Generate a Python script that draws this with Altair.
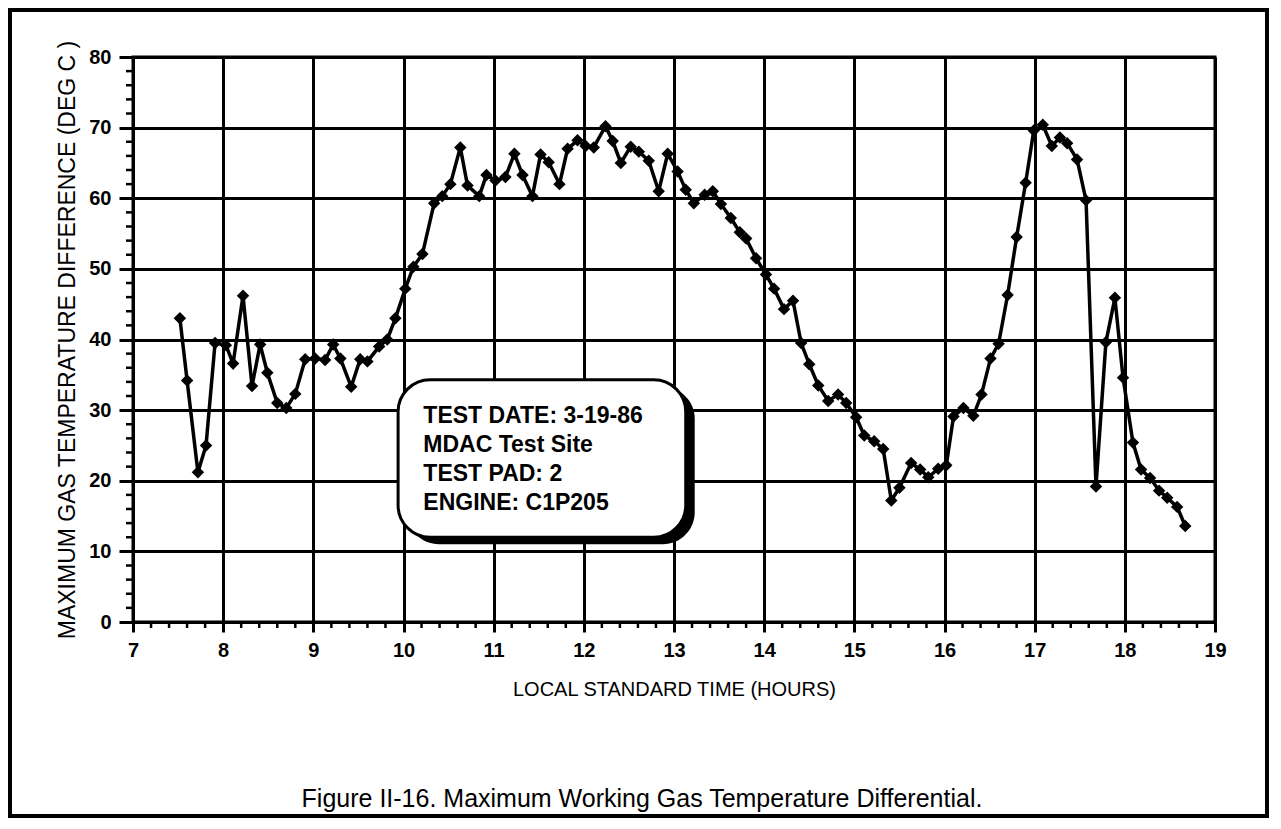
import altair as alt
import pandas as pd

# ---- data ----
hours = [7.52, 7.60, 7.72, 7.81, 7.91, 8.03, 8.11, 8.22, 8.32, 8.41, 8.49, 8.60, 8.70, 8.80,
         8.91, 9.02, 9.13, 9.22, 9.30, 9.42, 9.52, 9.60, 9.73, 9.82, 9.91, 10.02, 10.11, 10.21,
         10.34, 10.43, 10.52, 10.63, 10.71, 10.84, 10.92, 11.02, 11.13, 11.23, 11.32, 11.43,
         11.52, 11.61, 11.73, 11.82, 11.93, 12.02, 12.11, 12.24, 12.32, 12.41, 12.52, 12.61,
         12.72, 12.83, 12.93, 13.04, 13.13, 13.22, 13.34, 13.43, 13.52, 13.63, 13.73, 13.80,
         13.91, 14.02, 14.11, 14.22, 14.32, 14.41, 14.50, 14.60, 14.71, 14.82, 14.91, 15.02,
         15.11, 15.22, 15.32, 15.41, 15.50, 15.63, 15.73, 15.82, 15.93, 16.02, 16.10, 16.21,
         16.32, 16.41, 16.51, 16.60, 16.70, 16.80, 16.90, 16.99, 17.09, 17.19, 17.28, 17.36,
         17.47, 17.57, 17.68, 17.79, 17.89, 17.98, 18.09, 18.18, 18.28, 18.38, 18.47, 18.58,
         18.67]
temps = [43.0, 34.2, 21.2, 25.0, 39.5, 39.2, 36.6, 46.2, 33.4, 39.3, 35.3, 31.0, 30.3, 32.3,
         37.2, 37.3, 37.1, 39.3, 37.3, 33.3, 37.2, 36.9, 39.0, 40.0, 43.0, 47.2, 50.3, 52.1,
         59.3, 60.3, 62.0, 67.2, 61.8, 60.3, 63.3, 62.5, 63.0, 66.3, 63.3, 60.3,
         66.2, 65.1, 62.0, 67.0, 68.2, 67.4, 67.2, 70.2, 68.1, 65.0, 67.3, 66.6,
         65.3, 61.0, 66.3, 63.8, 61.2, 59.3, 60.5, 61.0, 59.2, 57.2, 55.2, 54.3,
         51.5, 49.2, 47.2, 44.3, 45.5, 39.5, 36.5, 33.5, 31.3, 32.2, 31.0, 29.0,
         26.4, 25.6, 24.5, 17.2, 19.0, 22.5, 21.6, 20.5, 21.7, 22.2, 29.1, 30.3,
         29.2, 32.2, 37.3, 39.4, 46.3, 54.5, 62.2, 69.6, 70.4, 67.4, 68.6, 67.8,
         65.5, 59.7, 19.2, 39.6, 45.9, 34.6, 25.4, 21.6, 20.4, 18.6, 17.6, 16.3,
         13.6]
x_ticks = [7, 8, 9, 10, 11, 12, 13, 14, 15, 16, 17, 18, 19]
y_ticks = [0, 10, 20, 30, 40, 50, 60, 70, 80]
x_minor = [h + f for h in range(7, 19) for f in (0.2, 0.4, 0.6, 0.8)]
y_minor = [v + f for v in range(0, 80, 10) for f in (2, 4, 6, 8)]
note_lines = ["TEST DATE: 3-19-86", "MDAC Test Site", "TEST PAD: 2", "ENGINE: C1P205"]
x_title = "LOCAL STANDARD TIME (HOURS)"
y_title = "MAXIMUM GAS TEMPERATURE DIFFERENCE (DEG C )"
fig_title = "Figure II-16. Maximum Working Gas Temperature Differential."

W, H = 1082, 565
FONT = "Liberation Sans"

df = pd.DataFrame({"hour": hours, "temp": temps})

xscale = alt.Scale(domain=[7, 19], nice=False, zero=False)
yscale = alt.Scale(domain=[0, 80], nice=False, zero=False)

x_axis = alt.Axis(
    values=x_ticks, title=x_title, format="d", labelFlush=False, labelOverlap=False,
    tickSize=10, labelPadding=8, titlePadding=19, titleFontSize=20)
y_axis = alt.Axis(
    values=y_ticks, title=y_title, format="d", labelFlush=False, labelOverlap=False,
    tickSize=14, labelPadding=8, titlePadding=9, titleFontSize=23)


def X(field="hour"):
    return alt.X(f"{field}:Q", scale=xscale, axis=x_axis, title=x_title)


def Y(field="temp"):
    return alt.Y(f"{field}:Q", scale=yscale, axis=y_axis, title=y_title)


# data line with diamonds
line = alt.Chart(df).mark_line(
    color="black", strokeWidth=3.5,
    point=alt.OverlayMarkDef(shape="diamond", filled=True, size=155, color="black", opacity=1)
).encode(x=X(), y=Y())

# outer figure frame
frame = alt.Chart(pd.DataFrame({"k": [0]})).mark_rect(
    fill="transparent", stroke="black", strokeWidth=4
).encode(x=alt.value(-123), x2=alt.value(1134), y=alt.value(-47), y2=alt.value(759))

# annotation box (shadow + box + text)
box_df = pd.DataFrame({"hour": [9.94], "hour2": [13.13], "temp": [34.3], "temp2": [12.0]})
shadow = alt.Chart(box_df).mark_rect(
    fill="black", cornerRadius=32, xOffset=9, x2Offset=9, yOffset=7, y2Offset=7
).encode(x=X(), x2="hour2:Q", y=Y(), y2="temp2:Q")
box = alt.Chart(box_df).mark_rect(
    fill="white", stroke="black", strokeWidth=3, cornerRadius=32
).encode(x=X(), x2="hour2:Q", y=Y(), y2="temp2:Q")
note = alt.Chart(pd.DataFrame({"hour": [10.22], "temp": [28.2]})).mark_text(
    text=note_lines, align="left", baseline="alphabetic", font=FONT, fontSize=23,
    fontWeight="bold", lineHeight=29, color="black"
).encode(x=X(), y=Y())

# minor ticks
xminor = alt.Chart(pd.DataFrame({"hour": x_minor})).mark_rule(color="black", strokeWidth=2.5).encode(
    x=X(), y=alt.value(H), y2=alt.value(H + 6))
yminor = alt.Chart(pd.DataFrame({"temp": y_minor})).mark_rule(color="black", strokeWidth=2.5).encode(
    y=Y(), x=alt.value(-7), x2=alt.value(0))

# figure caption
caption = alt.Chart(pd.DataFrame({"k": [0]})).mark_text(
    text=fig_title, font=FONT, fontSize=25, align="center", baseline="alphabetic", color="black"
).encode(x=alt.value(509), y=alt.value(750))

chart = alt.layer(line, frame, shadow, box, note, xminor, yminor, caption).properties(
    width=W, height=H,
    autosize=alt.AutoSizeParams(type="none"),
    padding={"left": 125, "top": 49, "right": 55, "bottom": 196},
    background="white",
).configure_view(
    stroke="black", strokeWidth=3
).configure_axis(
    labelFont=FONT, labelFontWeight="bold", labelFontSize=20, labelColor="black",
    titleFont=FONT, titleFontWeight="normal", titleColor="black",
    tickColor="black", tickWidth=3, grid=True, gridColor="black", gridWidth=3, gridOpacity=1,
    domain=False
)

chart.save("out.html", embed_options={"renderer": "svg", "actions": False})
